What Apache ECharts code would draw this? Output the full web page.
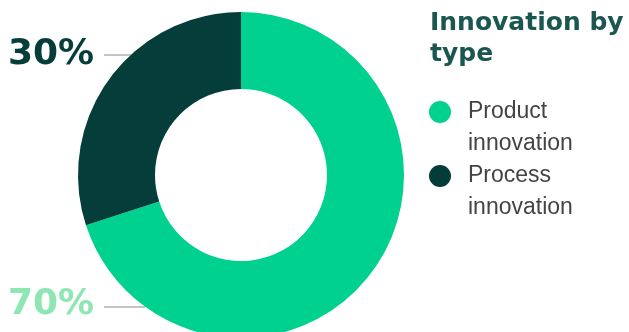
<!DOCTYPE html>
<html>
<head>
<meta charset="utf-8">
<script src="https://cdn.jsdelivr.net/npm/echarts@6/dist/echarts.min.js"></script>
<style>
  html, body { margin: 0; padding: 0; background: #fff; }
  #main { width: 629px; height: 332px; }
</style>
</head>
<body>
<div id="main"></div>
<script>
// chart data
const categories = ["Product\ninnovation", "Process\ninnovation"];
const shares = [70, 30];
const sliceColors = ["#00d18f", "#053d3a"];
const labelColors = ["#8ee6b3", "#053d3a"];

// where each percentage label sits (left column), and its leader line
const labelSpots = [
  { x: 8, y: 305, line: [[104, 307], [145, 307]] },
  { x: 8, y: 55, line: [[104, 55], [131, 55]] }
];

const myChart = echarts.init(document.getElementById("main"));

const option = {
  animation: false,
  title: {
    text: "Innovation by\ntype",
    left: 430,
    top: 8,
    padding: 0,
    textStyle: {
      fontFamily: "DejaVu Sans",
      fontWeight: "bold",
      fontSize: 25,
      lineHeight: 31,
      color: "#1b5651"
    }
  },
  legend: {
    orient: "vertical",
    left: 429,
    top: 64,
    padding: 0,
    itemGap: -32,
    icon: "circle",
    itemWidth: 46,
    itemHeight: 22,
    selectedMode: false,
    // leading blank line so the first text line sits beside the dot
    formatter: (name) => "\n" + name,
    textStyle: {
      fontFamily: "Liberation Sans",
      fontSize: 23,
      lineHeight: 32,
      color: "#444"
    },
    data: categories
  },
  series: [
    {
      type: "pie",
      center: [241, 175],
      radius: [86, 163],
      startAngle: 90,
      clockwise: true,
      silent: true,
      label: {
        show: true,
        formatter: "{d}%",
        fontFamily: "DejaVu Sans",
        fontWeight: "bold",
        fontSize: 36,
        overflow: "none"
      },
      labelLine: {
        show: true,
        lineStyle: { color: "#8a8a8a", width: 1 }
      },
      labelLayout: (params) => {
        const s = labelSpots[params.dataIndex];
        return {
          x: s.x,
          y: s.y,
          align: "left",
          verticalAlign: "middle",
          labelLinePoints: [s.line[0], s.line[1], s.line[1]]
        };
      },
      data: categories.map((name, i) => ({
        name: name,
        value: shares[i],
        itemStyle: { color: sliceColors[i] },
        label: { color: labelColors[i] }
      }))
    }
  ]
};

option && myChart.setOption(option);
</script>
</body>
</html>
